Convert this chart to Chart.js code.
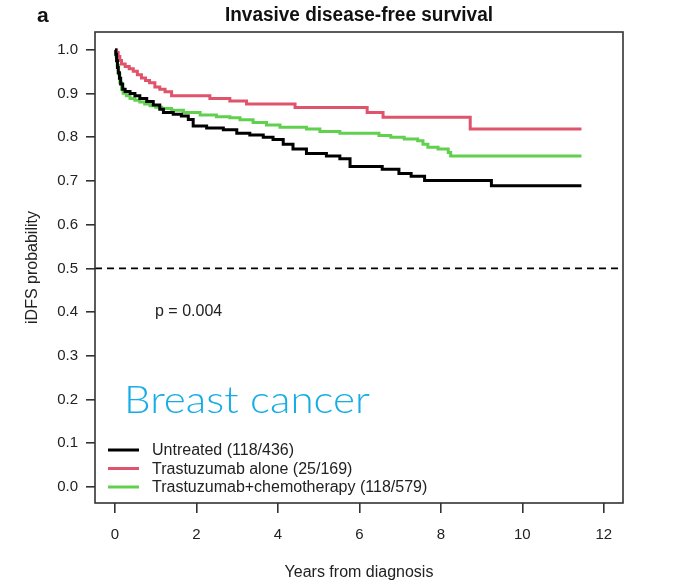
<!DOCTYPE html>
<html><head><meta charset="utf-8">
<script src="https://cdn.jsdelivr.net/npm/chart.js@4/dist/chart.umd.min.js"></script>
<style>html,body{margin:0;padding:0;background:#fff;} canvas{display:block;}</style>
</head><body>
<canvas id="c" width="687" height="582"></canvas>
<script>
// ---------- data ----------
const xTicks = [0, 2, 4, 6, 8, 10, 12];
const yTicks = [0, 0.1, 0.2, 0.3, 0.4, 0.5, 0.6, 0.7, 0.8, 0.9, 1.0];

const untreatedT = [0, 0.02, 0.04, 0.06, 0.08, 0.11, 0.14, 0.19, 0.25, 0.37, 0.49, 0.61, 0.78, 0.94, 1.10, 1.19, 1.43, 1.63, 1.80, 1.92, 2.25, 2.66, 2.99, 3.31, 3.64, 3.88, 4.13, 4.37, 4.70, 5.19, 5.52, 5.77, 6.56, 6.97, 7.27, 7.60, 9.24, 11.45];
const untreatedS = [1.0, 0.99, 0.975, 0.96, 0.948, 0.935, 0.922, 0.910, 0.905, 0.900, 0.895, 0.889, 0.882, 0.874, 0.864, 0.857, 0.853, 0.849, 0.841, 0.826, 0.821, 0.817, 0.809, 0.805, 0.800, 0.795, 0.784, 0.773, 0.763, 0.757, 0.751, 0.733, 0.727, 0.717, 0.711, 0.701, 0.689, 0.689];

const trastT = [0, 0.04, 0.08, 0.12, 0.16, 0.25, 0.35, 0.45, 0.55, 0.65, 0.75, 0.85, 0.98, 1.10, 1.23, 1.39, 2.33, 2.82, 3.23, 4.42, 6.19, 6.58, 8.72, 11.45];
const trastS = [1.0, 0.994, 0.985, 0.976, 0.968, 0.962, 0.957, 0.951, 0.943, 0.936, 0.930, 0.925, 0.915, 0.910, 0.904, 0.895, 0.889, 0.883, 0.876, 0.868, 0.857, 0.846, 0.819, 0.819];

const comboT = [0, 0.03, 0.06, 0.09, 0.12, 0.16, 0.20, 0.28, 0.37, 0.49, 0.61, 0.73, 0.86, 1.00, 1.15, 1.39, 1.68, 2.09, 2.49, 2.82, 3.07, 3.39, 3.72, 4.05, 4.70, 5.03, 5.52, 6.48, 6.77, 7.10, 7.43, 7.56, 7.68, 7.93, 8.18, 8.24, 11.45];
const comboS = [1.0, 0.985, 0.965, 0.945, 0.925, 0.910, 0.901, 0.895, 0.889, 0.885, 0.881, 0.876, 0.872, 0.869, 0.866, 0.862, 0.857, 0.851, 0.847, 0.845, 0.840, 0.834, 0.828, 0.823, 0.819, 0.813, 0.809, 0.804, 0.800, 0.796, 0.792, 0.784, 0.777, 0.773, 0.765, 0.757, 0.757];

const refLevel = [0.5, 0.5];
const seriesLabels = ['Untreated (118/436)', 'Trastuzumab alone (25/169)', 'Trastuzumab+chemotherapy (118/579)'];
const titleText = 'Invasive disease-free survival';
const panelLetter = 'a';
const pText = 'p = 0.004';
const noteText = 'Breast cancer';
const xTitle = 'Years from diagnosis';
const yTitle = 'iDFS probability';

// ---------- build ----------
const toPts = (t, s) => t.map((v, i) => ({x: v, y: s[i]}));
const X_MIN = -0.49, X_MAX = 12.47, Y_MIN = -0.037, Y_MAX = 1.041;
const FONT = '"Liberation Sans", Arial, Helvetica, sans-serif';
const colors = ['#000000', '#DF536B', '#61D04F'];

const km = (label, t, s, color) => ({
  label, data: toPts(t, s), borderColor: color, backgroundColor: color,
  borderWidth: 3, pointRadius: 0, tension: 0, stepped: 'before', fill: false,
  borderJoinStyle: 'miter', borderCapStyle: 'butt'
});

const overlay = {
  id: 'overlay',
  afterDraw(chart) {
    const {ctx, chartArea: a} = chart;
    ctx.save();
    // box
    ctx.strokeStyle = '#333';
    ctx.lineWidth = 1.6;
    ctx.strokeRect(a.left, a.top, a.right - a.left, a.bottom - a.top);

    // title
    ctx.fillStyle = '#111';
    ctx.textBaseline = 'middle';
    ctx.textAlign = 'center';
    ctx.font = 'bold 20px "Liberation Sans Narrow", "Arial Narrow", ' + FONT;
    let w = ctx.measureText(titleText).width;
    const target = 268;
    ctx.save();
    ctx.translate((a.left + a.right) / 2, 15);
    if (Math.abs(w - target) > 6) ctx.scale(target / w, 1);
    ctx.fillText(titleText, 0, 0);
    ctx.restore();

    // panel letter
    ctx.textAlign = 'left';
    ctx.font = 'bold 21px ' + FONT;
    ctx.fillText(panelLetter, 37, 16);

    // p value
    ctx.font = '16px ' + FONT;
    ctx.fillStyle = '#222';
    ctx.fillText(pText, 155, 312);

    // legend
    const rows = [450, 468.5, 487];
    ctx.font = '16px ' + FONT;
    seriesLabels.forEach((lab, i) => {
      ctx.strokeStyle = colors[i];
      ctx.lineWidth = 3;
      ctx.beginPath();
      ctx.moveTo(108, rows[i]);
      ctx.lineTo(139, rows[i]);
      ctx.stroke();
      ctx.fillStyle = '#222';
      ctx.fillText(lab, 152, rows[i] + 1);
    });

    // note
    ctx.fillStyle = '#16ADE6';
    ctx.font = '300 37px Lato, "Open Sans", sans-serif';
    ctx.textBaseline = 'alphabetic';
    const nw = ctx.measureText(noteText).width;
    ctx.save();
    ctx.translate(124, 413);
    ctx.scale(246 / nw, 1);
    ctx.fillText(noteText, 0, 0);
    ctx.restore();
    ctx.restore();
  }
};

new Chart(document.getElementById('c'), {
  type: 'line',
  data: {
    datasets: [
      km(seriesLabels[0], untreatedT, untreatedS, colors[0]),
      km(seriesLabels[1], trastT, trastS, colors[1]),
      km(seriesLabels[2], comboT, comboS, colors[2]),
      {
        label: 'ref', data: [{x: X_MIN, y: refLevel[0]}, {x: X_MAX, y: refLevel[1]}],
        borderColor: '#000', borderWidth: 1.6, borderDash: [7, 5], pointRadius: 0, fill: false
      }
    ]
  },
  options: {
    responsive: false,
    devicePixelRatio: 1,
    animation: false,
    layout: {padding: {left: 0, right: 64, top: 32, bottom: 0}},
    plugins: {legend: {display: false}, title: {display: false}, tooltip: {enabled: false}},
    scales: {
      x: {
        type: 'linear', min: X_MIN, max: X_MAX,
        afterFit: s => { s.height = 79; },
        afterBuildTicks: s => { s.ticks = xTicks.map(v => ({value: v})); },
        grid: {display: true, drawOnChartArea: false, drawTicks: true, tickLength: 10, color: '#333', lineWidth: 1.6},
        border: {display: false},
        ticks: {padding: 13, color: '#222', font: {family: FONT, size: 15}, maxRotation: 0, autoSkip: false,
                callback: v => String(v)},
        title: {display: true, text: xTitle, color: '#222', font: {family: FONT, size: 16}, padding: {top: 0, bottom: 0}}
      },
      y: {
        type: 'linear', min: Y_MIN, max: Y_MAX,
        afterFit: s => { s.width = 95; },
        afterBuildTicks: s => { s.ticks = yTicks.map(v => ({value: v})); },
        grid: {display: true, drawOnChartArea: false, drawTicks: true, tickLength: 9, color: '#333', lineWidth: 1.6},
        border: {display: false},
        ticks: {padding: 8, color: '#222', font: {family: FONT, size: 15}, autoSkip: false,
                callback: v => Number(v).toFixed(1)},
        title: {display: true, text: yTitle, color: '#222', font: {family: FONT, size: 16}, padding: {top: 23, bottom: 0}}
      }
    }
  },
  plugins: [overlay]
});
</script>
</body></html>
